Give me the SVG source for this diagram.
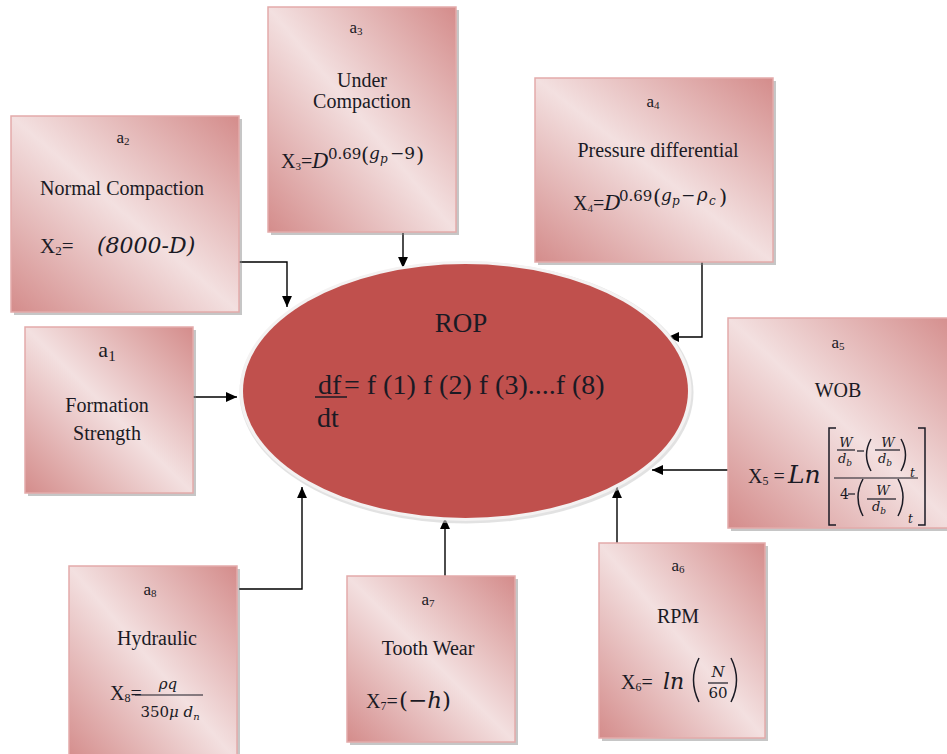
<svg xmlns="http://www.w3.org/2000/svg" width="947" height="754" viewBox="0 0 947 754" font-size="20">
<style>
.t{font-family:"Liberation Serif","Times New Roman",serif;fill:#1a1a24}
.m{font-family:"DejaVu Serif","Cambria Math",serif;font-style:italic;fill:#1a1a24}
.n{font-style:normal}
.c{text-anchor:middle}
.box{fill:url(#bg);stroke:#E3ABAA;stroke-width:1.5}
.sh{fill:#808080;opacity:.45}
.ln{stroke:#000;stroke-width:1.4;fill:none;marker-end:url(#ah)}
.ml{stroke:#1a1a24;stroke-width:1.2;fill:none}
.pr{stroke:#1a1a24;stroke-width:1.5;fill:none}
</style>
<defs>
<linearGradient id="bg" x1="0" y1="1" x2="1" y2="0">
<stop offset="0" stop-color="#D48C8B"/>
<stop offset="0.5" stop-color="#F3E0E0"/>
<stop offset="1" stop-color="#D48C8B"/>
</linearGradient>
<marker id="ah" viewBox="0 0 10 10" refX="10" refY="5" markerWidth="11" markerHeight="11" markerUnits="userSpaceOnUse" orient="auto">
<path d="M0,0.5 L10,5 L0,9.5 z" fill="#000"/>
</marker>
</defs>
<rect width="947" height="754" fill="#fff"/>

<g id="connectors">
<path class="ln" d="M239,262 H287 V307"/>
<path class="ln" d="M403,233 V268"/>
<path class="ln" d="M702,262 V337 H668"/>
<path class="ln" d="M193,397 H237"/>
<path class="ln" d="M728,470 H652"/>
<path class="ln" d="M617,543 V487"/>
<path class="ln" d="M445,576 V518"/>
<path class="ln" d="M239,589 H302 V487"/>
</g>

<g id="rop">
<ellipse cx="466.5" cy="392.5" rx="227" ry="131" fill="#cfcfcf" opacity=".6"/>
<ellipse cx="465.5" cy="391" rx="226" ry="130" fill="#F4F2F2"/>
<ellipse cx="465.5" cy="391" rx="222.5" ry="127" fill="#C0504D"/>
<text class="t c" x="461" y="332" font-size="27">ROP</text>
<text class="t" x="318" y="394" font-size="28">df</text>
<line x1="315" y1="397" x2="347" y2="397" stroke="#1a1a24" stroke-width="1.5"/>
<text class="t" x="344" y="394" font-size="28">= f (1) f (2) f (3)....f (8)</text>
<text class="t" x="317" y="427" font-size="28">dt</text>
</g>

<g id="a1">
<rect class="sh" x="28" y="330" width="168" height="166"/>
<rect class="box" x="25" y="327" width="168" height="166"/>
<text class="t c" x="107" y="357" font-size="22">a<tspan font-size="15" dy="4">1</tspan></text>
<text class="t c" x="107" y="412">Formation</text>
<text class="t c" x="107" y="440">Strength</text>
</g>

<g id="a2">
<rect class="sh" x="14" y="119" width="228" height="196"/>
<rect class="box" x="11" y="116" width="228" height="196"/>
<text class="t c" x="123" y="143" font-size="17">a<tspan font-size="11" dy="2">2</tspan></text>
<text class="t c" x="122" y="195">Normal Compaction</text>
<text class="t" x="40" y="253" font-size="21">X<tspan font-size="13" dy="2">2</tspan><tspan dy="-2">=</tspan></text>
<text class="m" x="97" y="253" font-size="22">(8000-D)</text>
</g>

<g id="a3">
<rect class="sh" x="271" y="10" width="188" height="225"/>
<rect class="box" x="268" y="7" width="188" height="225"/>
<text class="t c" x="356" y="33" font-size="17">a<tspan font-size="11" dy="2">3</tspan></text>
<text class="t c" x="362" y="87">Under</text>
<text class="t c" x="362" y="108">Compaction</text>
<text class="t" x="281" y="168">X<tspan font-size="11" dy="2">3</tspan><tspan dy="-2">=</tspan></text>
<text class="m" y="168" font-size="21"><tspan x="312">D</tspan><tspan class="n" x="328" y="159" font-size="15">0.69</tspan><tspan class="n" x="361" y="162" font-size="21">(</tspan><tspan x="369" y="159" font-size="17">g</tspan><tspan x="380" y="163" font-size="12">p</tspan><tspan class="n" x="390" y="159" font-size="17">−9</tspan><tspan class="n" x="416" y="162" font-size="21">)</tspan></text>
</g>

<g id="a4">
<rect class="sh" x="538" y="81" width="238" height="184"/>
<rect class="box" x="535" y="78" width="238" height="184"/>
<text class="t c" x="653" y="107" font-size="17">a<tspan font-size="11" dy="2">4</tspan></text>
<text class="t c" x="658" y="157">Pressure differential</text>
<text class="t" x="573" y="210">X<tspan font-size="11" dy="2">4</tspan><tspan dy="-2">=</tspan></text>
<text class="m" y="210" font-size="21"><tspan x="604">D</tspan><tspan class="n" x="619" y="201" font-size="15">0.69</tspan><tspan class="n" x="653" y="204" font-size="21">(</tspan><tspan x="661" y="201" font-size="17">g</tspan><tspan x="672" y="205" font-size="12">p</tspan><tspan class="n" x="681" y="201" font-size="17">−</tspan><tspan x="697" y="201" font-size="18">ρ</tspan><tspan x="709" y="205" font-size="12">c</tspan><tspan class="n" x="719" y="204" font-size="21">)</tspan></text>
</g>

<g id="a5">
<rect class="sh" x="731" y="321" width="230" height="210"/>
<rect class="box" x="728" y="318" width="230" height="210"/>
<text class="t c" x="838" y="348" font-size="17">a<tspan font-size="11" dy="2">5</tspan></text>
<text class="t c" x="838" y="397">WOB</text>
<text class="t" x="748" y="483">X<tspan font-size="12" dy="2">5</tspan><tspan dy="-2"> =</tspan></text>
<text class="m" x="788" y="483" font-size="25">Ln</text>
<path class="pr" d="M836,428 H829 V525 H836"/>
<path class="pr" d="M918,428 H925 V525 H918"/>
<line class="ml" x1="834" y1="478" x2="918" y2="478"/>
<g class="m" font-size="13">
<text x="846" y="447" text-anchor="middle">W</text>
<text x="838" y="463">d<tspan font-size="9" dy="3">b</tspan></text>
<text x="888" y="447" text-anchor="middle">W</text>
<text x="878" y="463">d<tspan font-size="9" dy="3">b</tspan></text>
<text x="910" y="477" font-size="12">t</text>
<text class="n" x="840" y="499" font-size="14">4</text>
<text x="883" y="495" text-anchor="middle">W</text>
<text x="872" y="511">d<tspan font-size="9" dy="3">b</tspan></text>
<text x="908" y="523" font-size="12">t</text>
</g>
<line class="ml" x1="837" y1="450" x2="855" y2="450"/>
<line class="ml" x1="857" y1="451" x2="864" y2="451"/>
<path class="pr" d="M871,439 Q862,455 871,471"/>
<line class="ml" x1="875" y1="450" x2="900" y2="450"/>
<path class="pr" d="M901,439 Q910,455 901,471"/>
<line class="ml" x1="848" y1="494" x2="855" y2="494"/>
<path class="pr" d="M863,479 Q853,497 863,516"/>
<line class="ml" x1="867" y1="499" x2="896" y2="499"/>
<path class="pr" d="M898,479 Q908,497 898,516"/>
</g>

<g id="a6">
<rect class="sh" x="602" y="546" width="166" height="195"/>
<rect class="box" x="599" y="543" width="166" height="195"/>
<text class="t c" x="678" y="571" font-size="17">a<tspan font-size="11" dy="2">6</tspan></text>
<text class="t c" x="678" y="623">RPM</text>
<text class="t" x="621" y="689">X<tspan font-size="12" dy="2">6</tspan><tspan dy="-2">=</tspan></text>
<text class="m" x="663" y="689" font-size="22">ln</text>
<path class="pr" d="M699,658 Q688,680 699,702"/>
<text class="m c" x="718" y="677" font-size="15">N</text>
<line class="ml" x1="708" y1="683" x2="728" y2="683"/>
<text class="m n c" x="718" y="698" font-size="15">60</text>
<path class="pr" d="M731,658 Q742,680 731,702"/>
</g>

<g id="a7">
<rect class="sh" x="350" y="579" width="168" height="166"/>
<rect class="box" x="347" y="576" width="168" height="166"/>
<text class="t c" x="428" y="605" font-size="17">a<tspan font-size="11" dy="2">7</tspan></text>
<text class="t c" x="428" y="655">Tooth Wear</text>
<text class="t" x="366" y="708">X<tspan font-size="12" dy="2">7</tspan><tspan dy="-2">=</tspan></text>
<text class="m" x="399" y="708" font-size="23"><tspan class="n">(−</tspan>h<tspan class="n">)</tspan></text>
</g>

<g id="a8">
<rect class="sh" x="72" y="569" width="168" height="195"/>
<rect class="box" x="69" y="566" width="168" height="195"/>
<text class="t c" x="150" y="595" font-size="17">a<tspan font-size="11" dy="2">8</tspan></text>
<text class="t c" x="157" y="645">Hydraulic</text>
<text class="t" x="110" y="700">X<tspan font-size="12" dy="2">8</tspan><tspan dy="-2">=</tspan></text>
<line class="ml" x1="135" y1="695" x2="203" y2="695"/>
<text class="m c" x="168" y="689" font-size="15">ρq</text>
<text class="m c" x="170" y="717" font-size="15"><tspan class="n">350</tspan>μ d<tspan font-size="10" dy="3">n</tspan></text>
</g>
</svg>
